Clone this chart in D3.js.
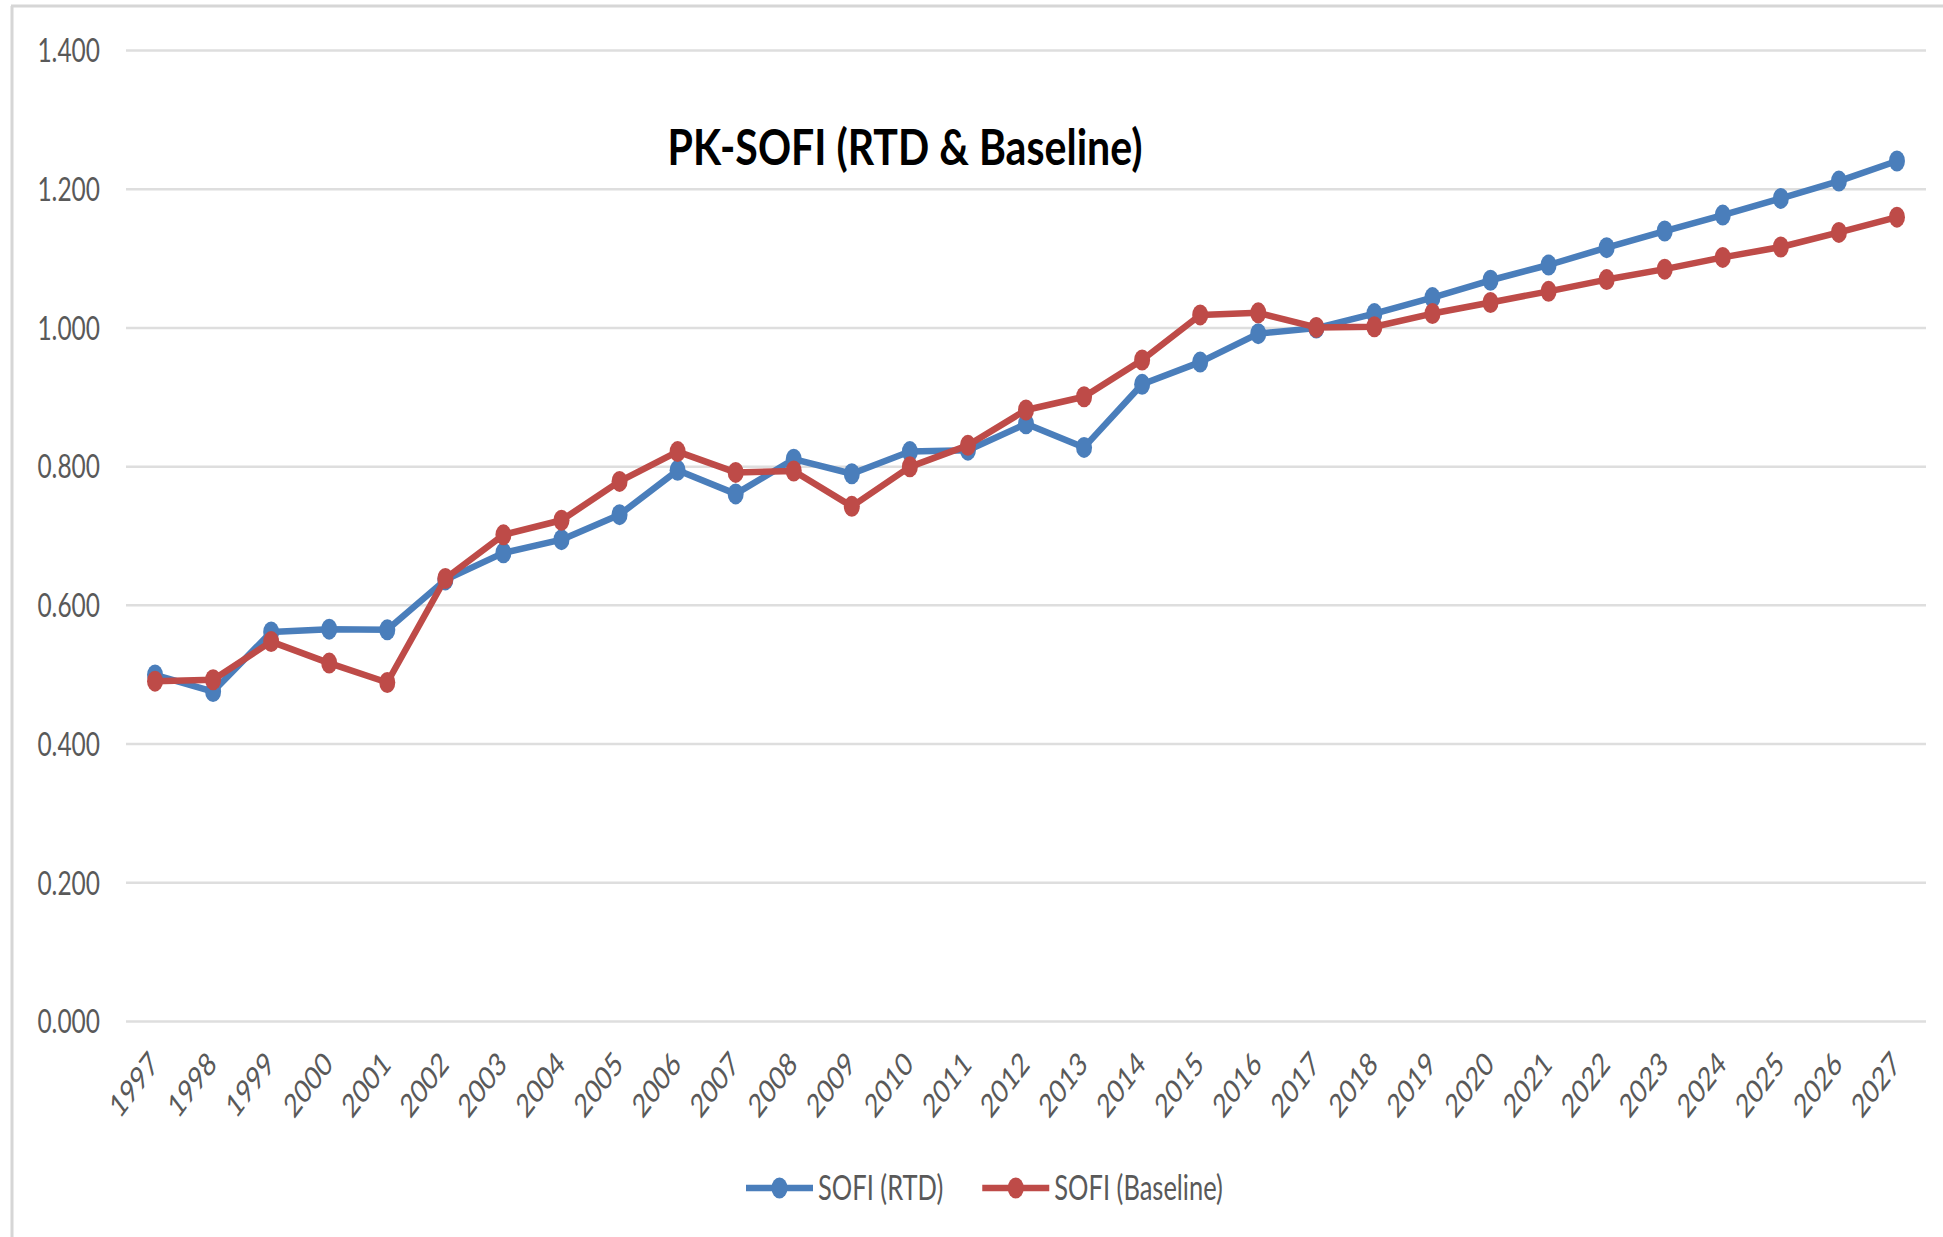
<!DOCTYPE html>
<html>
<head>
<meta charset="utf-8">
<script src="https://cdn.jsdelivr.net/npm/d3@7"></script>
<style>
  html, body { margin: 0; padding: 0; background: #fff; }
  svg { display: block; }
</style>
</head>
<body>
<svg id="chart" width="1943" height="1237"></svg>
<script>
// ---- data ----
const years = ["1997","1998","1999","2000","2001","2002","2003","2004","2005","2006",
               "2007","2008","2009","2010","2011","2012","2013","2014","2015","2016",
               "2017","2018","2019","2020","2021","2022","2023","2024","2025","2026","2027"];
const sofiRTD = [0.499,0.475,0.561,0.565,0.564,0.636,0.675,0.694,0.730,0.794,
                 0.760,0.810,0.789,0.821,0.823,0.861,0.827,0.918,0.950,0.991,
                 0.999,1.020,1.043,1.068,1.090,1.115,1.139,1.162,1.186,1.211,1.240];
const sofiBaseline = [0.490,0.492,0.547,0.516,0.488,0.638,0.701,0.722,0.778,0.821,
                      0.791,0.793,0.742,0.799,0.830,0.881,0.900,0.953,1.018,1.021,
                      1.000,1.001,1.020,1.036,1.052,1.069,1.084,1.101,1.116,1.137,1.159];
const yTicks = [0, 0.2, 0.4, 0.6, 0.8, 1.0, 1.2, 1.4];
const seriesNames = ["SOFI (RTD)", "SOFI (Baseline)"];
const seriesColors = ["#4a7ebb", "#be4b48"];
const titleText = "PK-SOFI (RTD & Baseline)";

// ---- layout ----
const W = 1943, H = 1237;
const plotLeft = 126, plotRight = 1926, plotTop = 50, plotBottom = 1021;
const SY = 1.33;          // vertical stretch of the original picture
const font = "Lato, 'Open Sans', sans-serif";
const textGray = "#595959";

const svg = d3.select("#chart");
svg.append("rect").attr("width", W).attr("height", H).attr("fill", "#fff");

// border (top and left visible)
svg.append("line").attr("x1", 11).attr("x2", W).attr("y1", 6).attr("y2", 6)
  .attr("stroke", "#d6d6d6").attr("stroke-width", 3);
svg.append("line").attr("x1", 12).attr("x2", 12).attr("y1", 6).attr("y2", H)
  .attr("stroke", "#d6d6d6").attr("stroke-width", 3);

const x = d3.scaleBand().domain(years).range([plotLeft, plotRight]).paddingInner(0).paddingOuter(0);
const xc = d => x(d) + x.bandwidth() / 2;
const y = d3.scaleLinear().domain([0, 1.4]).range([plotBottom, plotTop]);

// y axis with gridlines
const yAxis = d3.axisLeft(y).tickValues(yTicks).tickFormat(d3.format(".3f"))
  .tickSize(-(plotRight - plotLeft)).tickPadding(0);
const gy = svg.append("g").attr("transform", `translate(${plotLeft},0)`).call(yAxis);
gy.select(".domain").remove();
gy.selectAll(".tick line").attr("stroke", "#dedede").attr("stroke-width", 2.5);
gy.selectAll(".tick text")
  .attr("x", null).attr("dy", "0.36em")
  .attr("transform", `translate(${100 - plotLeft},0) scale(1,${SY})`)
  .attr("fill", textGray).attr("font-family", font).attr("font-size", 24.5)
  .attr("text-anchor", "end");

// x axis labels (rotated)
const xAxis = d3.axisBottom(x).tickSize(0).tickPadding(0);
const gx = svg.append("g").attr("transform", `translate(0,${plotBottom})`).call(xAxis);
gx.select(".domain").remove();
gx.selectAll(".tick line").remove();
gx.selectAll(".tick text")
  .attr("y", null).attr("dy", null)
  .attr("transform", `translate(5,45) scale(1,${SY}) rotate(-45)`)
  .attr("fill", textGray).attr("font-family", font).attr("font-size", 24.5)
  .attr("text-anchor", "end");

// lines + markers
const allSeries = [sofiRTD, sofiBaseline];
const line = d3.line().x((d, i) => xc(years[i])).y(d => y(d));
allSeries.forEach((vals, si) => {
  const g = svg.append("g");
  g.append("path").datum(vals).attr("d", line)
    .attr("fill", "none").attr("stroke", seriesColors[si])
    .attr("stroke-width", 6.5).attr("stroke-linejoin", "round");
  g.selectAll("ellipse").data(vals).join("ellipse")
    .attr("cx", (d, i) => xc(years[i])).attr("cy", d => y(d))
    .attr("rx", 8).attr("ry", 10.5)
    .attr("fill", seriesColors[si]);
});

// title
svg.append("text").text(titleText)
  .attr("transform", `translate(905,165) scale(1,${SY})`)
  .attr("text-anchor", "middle").attr("font-family", font).attr("font-weight", 700)
  .attr("font-size", 37).attr("fill", "#000")
  .attr("textLength", 475).attr("lengthAdjust", "spacingAndGlyphs");

// legend
const legY = 1188, lineLen = 67, gapText = 5, gapItem = 39;
const leg = svg.append("g");
let cx = 746;
seriesNames.forEach((name, i) => {
  const item = leg.append("g");
  item.append("line").attr("x1", cx).attr("x2", cx + lineLen).attr("y1", legY).attr("y2", legY)
    .attr("stroke", seriesColors[i]).attr("stroke-width", 6.5);
  item.append("ellipse").attr("cx", cx + lineLen / 2).attr("cy", legY).attr("rx", 8).attr("ry", 10.5)
    .attr("fill", seriesColors[i]);
  const t = item.append("text").text(name)
    .attr("transform", `translate(${cx + lineLen + gapText},${legY}) scale(1,${SY})`)
    .attr("dy", "0.36em").attr("font-family", font).attr("font-size", 25.5).attr("fill", textGray);
  cx = cx + lineLen + gapText + t.node().getComputedTextLength() + gapItem;
});
</script>
</body>
</html>
